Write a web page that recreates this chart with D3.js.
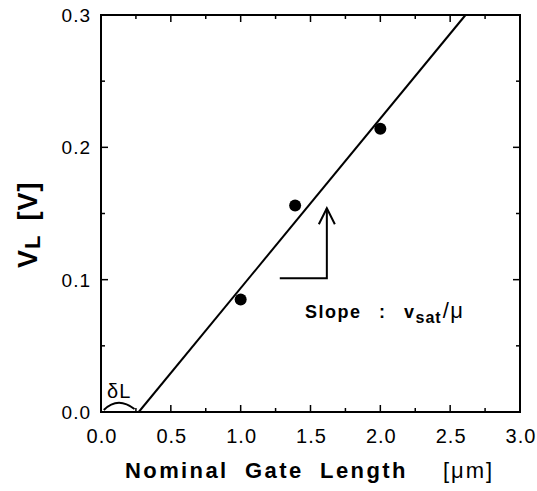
<!DOCTYPE html>
<html>
<head>
<meta charset="utf-8">
<script src="https://cdn.jsdelivr.net/npm/d3@7"></script>
<style>
  body { margin: 0; background: #fff; }
  svg { font-family: "Liberation Sans", Arial, sans-serif; }
</style>
</head>
<body>
<script>
// measured points: nominal gate length [um] vs V_L [V]
const gateLength = [1.0, 1.39, 2.0];
const vL = [0.085, 0.156, 0.214];
// fitted line endpoints
const fitX = [0.27, 2.61];
const fitY = [0.0, 0.3];
const xTicks = [0, 0.5, 1.0, 1.5, 2.0, 2.5, 3.0];
const yTicks = [0, 0.1, 0.2, 0.3];
const xMinor = [0.25, 0.75, 1.25, 1.75, 2.25, 2.75];
const yMinor = [0.05, 0.15, 0.25];

const width = 537, height = 491;
const margin = {top: 15, right: 17, bottom: 79, left: 101};

const svg = d3.select("body").append("svg").attr("width", width).attr("height", height);

const x = d3.scaleLinear().domain([0, 3]).range([margin.left, width - margin.right]);
const y = d3.scaleLinear().domain([0, 0.3]).range([height - margin.bottom, margin.top]);

const g = svg.append("g");

// frame
g.append("rect")
  .attr("x", x(0)).attr("y", y(0.3))
  .attr("width", x(3) - x(0)).attr("height", y(0) - y(0.3))
  .attr("fill", "none").attr("stroke", "#000").attr("stroke-width", 2);

// ticks (inward) on all four sides
function ticks(vals, len) {
  vals.forEach(v => {
    g.append("line").attr("x1", x(v)).attr("x2", x(v)).attr("y1", y(0)).attr("y2", y(0) - len).attr("stroke", "#000").attr("stroke-width", 1.5);
    g.append("line").attr("x1", x(v)).attr("x2", x(v)).attr("y1", y(0.3)).attr("y2", y(0.3) + len).attr("stroke", "#000").attr("stroke-width", 1.5);
  });
}
function yticks(vals, len) {
  vals.forEach(v => {
    g.append("line").attr("y1", y(v)).attr("y2", y(v)).attr("x1", x(0)).attr("x2", x(0) + len).attr("stroke", "#000").attr("stroke-width", 1.5);
    g.append("line").attr("y1", y(v)).attr("y2", y(v)).attr("x1", x(3)).attr("x2", x(3) - len).attr("stroke", "#000").attr("stroke-width", 1.5);
  });
}
ticks(xTicks, 7); ticks(xMinor, 4);
yticks(yTicks, 7); yticks(yMinor, 4);

// tick labels
g.selectAll(".xl").data(xTicks).join("text")
  .attr("x", d => x(d) + 1).attr("y", y(0) + 31)
  .attr("text-anchor", "middle").attr("font-size", 20).attr("letter-spacing", 1)
  .text(d => d3.format(".1f")(d));
g.selectAll(".yl").data(yTicks).join("text")
  .attr("x", x(0) - 10).attr("y", d => y(d) + 7)
  .attr("text-anchor", "end").attr("font-size", 19).attr("letter-spacing", 1)
  .text(d => d3.format(".1f")(d));

// fit line
g.append("line")
  .attr("x1", x(fitX[0])).attr("y1", y(fitY[0]))
  .attr("x2", x(fitX[1])).attr("y2", y(fitY[1]))
  .attr("stroke", "#000").attr("stroke-width", 2);

// points
g.selectAll(".pt").data(gateLength).join("circle")
  .attr("cx", d => x(d)).attr("cy", (d, i) => y(vL[i]))
  .attr("r", 6).attr("fill", "#000");

// slope arrow
const ax = 1.617, ay0 = 0.101, ay1 = 0.154, ax0 = 1.28;
g.append("path")
  .attr("d", `M${x(ax0)},${y(ay0)} H${x(ax)} V${y(ay1)}`)
  .attr("fill", "none").attr("stroke", "#000").attr("stroke-width", 2);
g.append("path")
  .attr("d", `M${x(ax) - 8},${y(ay1) + 16} L${x(ax)},${y(ay1)} L${x(ax) + 8},${y(ay1) + 16}`)
  .attr("fill", "none").attr("stroke", "#000").attr("stroke-width", 2);

// slope annotation
const st = g.append("text").attr("y", 318).attr("font-size", 18).attr("font-weight", "bold").attr("letter-spacing", 1.5);
st.append("tspan").attr("x", 305).text("Slope");
st.append("tspan").attr("x", 379).text(":");
st.append("tspan").attr("x", 404).text("v");
st.append("tspan").attr("dy", 5).attr("font-size", 16).attr("letter-spacing", 1).text("sat");
st.append("tspan").attr("dy", -5).attr("dx", 1).attr("font-weight", "normal").attr("font-size", 22).text("/\u03bc");

// delta L
g.append("text").attr("x", 107).attr("y", 398).attr("font-size", 20).attr("letter-spacing", 1).text("\u03b4L");
g.append("path")
  .attr("d", `M${x(0.02)},${y(0) - 2} Q${x(0.12)},${y(0) - 16} ${x(0.24)},${y(0) - 3}`)
  .attr("fill", "none").attr("stroke", "#000").attr("stroke-width", 2);

// axis titles
const xt = svg.append("text").attr("y", 478).attr("font-size", 22).attr("font-weight", "bold").attr("letter-spacing", 2.4).attr("word-spacing", 8);
xt.append("tspan").attr("x", 125).text("Nominal Gate Length");
xt.append("tspan").attr("x", 443).attr("font-weight", "normal").attr("letter-spacing", 2).text("[\u03bcm]");

const yt = svg.append("text").attr("transform", "translate(37,268) rotate(-90)").attr("font-size", 27).attr("font-weight", "bold").attr("letter-spacing", 1);
yt.append("tspan").text("V");
yt.append("tspan").attr("dy", 3).attr("font-size", 22).text("L");
yt.append("tspan").attr("dy", -3).attr("dx", 14).text("[V]");
</script>
</body>
</html>
